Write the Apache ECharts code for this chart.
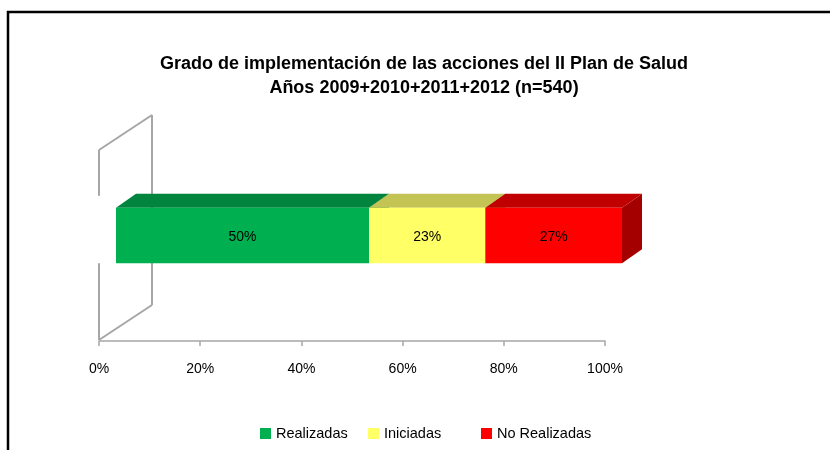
<!DOCTYPE html>
<html><head><meta charset="utf-8">
<script src="https://cdn.jsdelivr.net/npm/echarts@6/dist/echarts.min.js"></script>
<style>html,body{margin:0;padding:0;background:#fff}#c{width:830px;height:450px}</style>
</head><body><div id="c"></div>
<script>
const categories = ['Realizadas', 'Iniciadas', 'No Realizadas'];
const values = [50, 23, 27];
const frontColors = ['#00b050', '#ffff66', '#ff0000'];
const topColors = ['#00843e', '#c4c455', '#c00000'];
const sideColors = ['#007a38', '#b0b040', '#a50000'];
const titleLines = ['Grado de implementación de las acciones del II Plan de Salud', 'Años 2009+2010+2011+2012 (n=540)'];

const FONT = '"Liberation Sans", Arial, sans-serif';
const FRONT = [17, -10];
const DEPTH = [20, -14];
const WALL = [53, -35];
const BAND = 0.29;
const WALL_COLOR = '#a6a6a6';
const LEGEND_LEFT = [260, 368, 481];

const starts = [];
let acc = 0;
values.forEach(v => { starts.push(acc); acc += v; });

function barRender(i) {
  return function (params, api) {
    const a = api.coord([api.value(0), api.value(2)]);
    const b = api.coord([api.value(1), api.value(2)]);
    const h = api.size([0, 1])[1] * BAND;
    const x0 = a[0] + FRONT[0], x1 = b[0] + FRONT[0];
    const yT = a[1] + FRONT[1] - h / 2, yB = yT + h;
    return {
      type: 'group',
      children: [
        { type: 'polygon', shape: { points: [[x1, yT], [x1 + DEPTH[0], yT + DEPTH[1]], [x1 + DEPTH[0], yB + DEPTH[1]], [x1, yB]] }, style: { fill: sideColors[i] } },
        { type: 'polygon', shape: { points: [[x0, yT], [x1, yT], [x1 + DEPTH[0], yT + DEPTH[1]], [x0 + DEPTH[0], yT + DEPTH[1]]] }, style: { fill: topColors[i] } },
        { type: 'rect', shape: { x: x0, y: yT, width: x1 - x0, height: h }, style: { fill: frontColors[i] } },
        { type: 'text', style: { x: (x0 + x1) / 2, y: (yT + yB) / 2 + 1.5, text: api.value(3) + '%', align: 'center', verticalAlign: 'middle', fontSize: 14, fontFamily: FONT, fill: '#000' } }
      ]
    };
  };
}

function wallRender(params, api) {
  const cs = params.coordSys;
  const x = cs.x, top = cs.y, bottom = cs.y + cs.height - 1;
  const h = cs.height * BAND;
  const frontTop = cs.y + cs.height / 2 + FRONT[1] - h / 2;
  const gapTop = frontTop - 12, gapBottom = frontTop + h;
  const ls = { stroke: WALL_COLOR, lineWidth: 2, fill: null };
  const line = (p, q) => ({ type: 'line', shape: { x1: p[0], y1: p[1], x2: q[0], y2: q[1] }, style: ls });
  return {
    type: 'group',
    children: [
      line([x, top], [x, gapTop]),
      line([x, gapBottom], [x, bottom]),
      line([x + WALL[0], top + WALL[1]], [x + WALL[0], bottom + WALL[1]]),
      line([x, top], [x + WALL[0], top + WALL[1]]),
      line([x, bottom], [x + WALL[0], bottom + WALL[1]])
    ]
  };
}

const series = [{
  type: 'custom', name: 'wall', silent: true, z: 1,
  renderItem: wallRender, data: [[0, 0]], encode: { x: 0, y: 1 }
}];
categories.forEach((name, i) => {
  series.push({
    type: 'custom', name: name, z: 2 + i,
    itemStyle: { color: frontColors[i] },
    renderItem: barRender(i),
    encode: { x: [0, 1], y: 2 },
    data: [[starts[i], starts[i] + values[i], 0, values[i]]]
  });
});

const legends = categories.map((name, i) => ({
  data: [name], icon: 'rect', itemWidth: 11, itemHeight: 11,
  left: LEGEND_LEFT[i], top: 426, padding: 0,
  textStyle: { fontSize: 14.5, color: '#000', fontFamily: FONT }
}));

const chart = echarts.init(document.getElementById('c'), null, { renderer: 'canvas' });
chart.setOption({
  animation: false,
  backgroundColor: '#fff',
  title: {
    text: titleLines.join('\n'),
    left: 424, top: 52, padding: 0, textAlign: 'center',
    textStyle: { fontSize: 18, fontWeight: 'bold', lineHeight: 24, color: '#000', fontFamily: FONT }
  },
  legend: legends,
  grid: { left: 99, right: 225, top: 150, bottom: 109, containLabel: false },
  xAxis: {
    type: 'value', min: 0, max: 100, interval: 20,
    axisLine: { show: true, lineStyle: { color: WALL_COLOR, width: 1.5 } },
    axisTick: { show: true, length: 5, lineStyle: { color: WALL_COLOR, width: 1.5 } },
    axisLabel: { formatter: '{value}%', fontSize: 14, color: '#000', margin: 21, fontFamily: FONT },
    splitLine: { show: false }
  },
  yAxis: { type: 'category', data: [''], show: false },
  graphic: [{
    type: 'polyline', silent: true,
    shape: { points: [[8, 470], [8, 12], [850, 12]] },
    style: { stroke: '#000', lineWidth: 2.5, fill: null }
  }],
  series: series
});
</script></body></html>
